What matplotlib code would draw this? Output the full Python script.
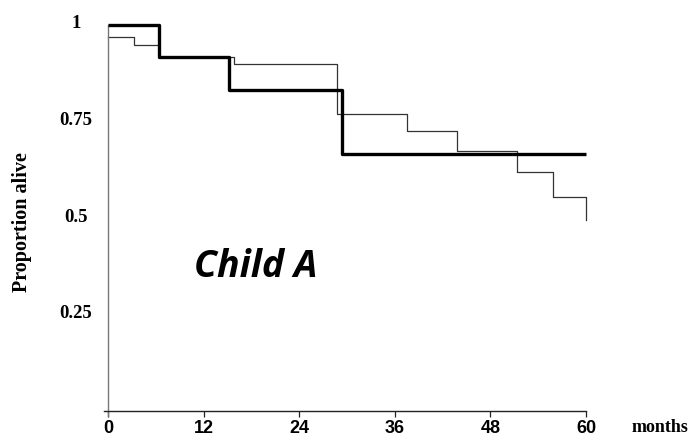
import matplotlib
matplotlib.use("Agg")
import matplotlib.pyplot as plt
import matplotlib.transforms as mtransforms

# Data
thick_months = [0, 6.4, 15.2, 29.4, 60]
thick_prop = [1.0, 0.917, 0.833, 0.667, 0.667]

thin_months = [0, 3.3, 6.4, 15.8, 28.8, 37.5, 43.8, 51.4, 55.9, 60, 60]
thin_prop = [0.97, 0.948, 0.917, 0.898, 0.770, 0.725, 0.675, 0.620, 0.556, 0.556, 0.495]

x_ticks = [0, 12, 24, 36, 48, 60]
y_ticks = [0.25, 0.5, 0.75, 1.0]
y_tick_labels = ["0.25", "0.5", "0.75", "1"]

W, H = 698, 436
fig = plt.figure(figsize=(W / 100, H / 100), dpi=100)

xmin, xmax = -0.5, 60.0
ymin, ymax = -0.012, 1.0
px_left, px_right = 104, 586
px_top, px_bottom = 25, 416.1
ax = fig.add_axes([px_left / W, 1 - px_bottom / H,
                   (px_right - px_left) / W, (px_bottom - px_top) / H])
ax.set_xlim(xmin, xmax)
ax.set_ylim(ymin, ymax)

ax.plot(thin_months, thin_prop, drawstyle="steps-post", color="#333333",
        lw=0.9, clip_on=False, zorder=2)
ax.plot(thick_months, thick_prop, drawstyle="steps-post", color="black",
        lw=2.4, clip_on=False, zorder=3, solid_capstyle="butt")

for s in ["top", "right"]:
    ax.spines[s].set_visible(False)
ax.spines["left"].set_position(("data", 0))
ax.spines["bottom"].set_position(("data", 0))
ax.spines["left"].set_color("#777777")
ax.spines["left"].set_linewidth(1.0)
ax.spines["bottom"].set_color("#222222")
ax.spines["bottom"].set_linewidth(1.0)

ax.set_xticks(x_ticks)
ax.set_xticklabels([str(v) for v in x_ticks])
ax.tick_params(axis="x", direction="out", length=4.5, width=0.9, pad=2,
               labelsize=13, color="#222222")
for lab in ax.get_xticklabels():
    lab.set_fontfamily(["Liberation Sans Narrow", "Liberation Sans"])
    lab.set_fontweight("bold")

ax.set_yticks(y_ticks)
ax.set_yticklabels(y_tick_labels)
ax.tick_params(axis="y", length=0, pad=23, labelsize=13.5)
off = mtransforms.ScaledTranslation(0, 3 / 100, fig.dpi_scale_trans)
for lab in ax.get_yticklabels():
    lab.set_fontfamily("Liberation Serif")
    lab.set_fontweight("bold")
    lab.set_horizontalalignment("center")
    lab.set_transform(lab.get_transform() + off)

ax.set_ylabel("Proportion alive", fontfamily="Liberation Serif",
              fontweight="bold", fontsize=14.5)
ax.yaxis.set_label_coords((22 - px_left) / (px_right - px_left),
                          (px_bottom - 222) / (px_bottom - px_top))
ax.yaxis.label.set_verticalalignment("center")

ax.set_xlabel("months", fontfamily="Liberation Serif", fontweight="bold",
              fontsize=13)
ax.xaxis.set_label_coords((660 - px_left) / (px_right - px_left),
                          (px_bottom - 427) / (px_bottom - px_top))
ax.xaxis.label.set_verticalalignment("center")

ax.text(18.6, 0.348, "Child A", fontfamily="Open Sans", fontweight="bold",
        fontstyle="italic", fontsize=27, ha="center", va="baseline")

fig.savefig("out.png", dpi=100)
